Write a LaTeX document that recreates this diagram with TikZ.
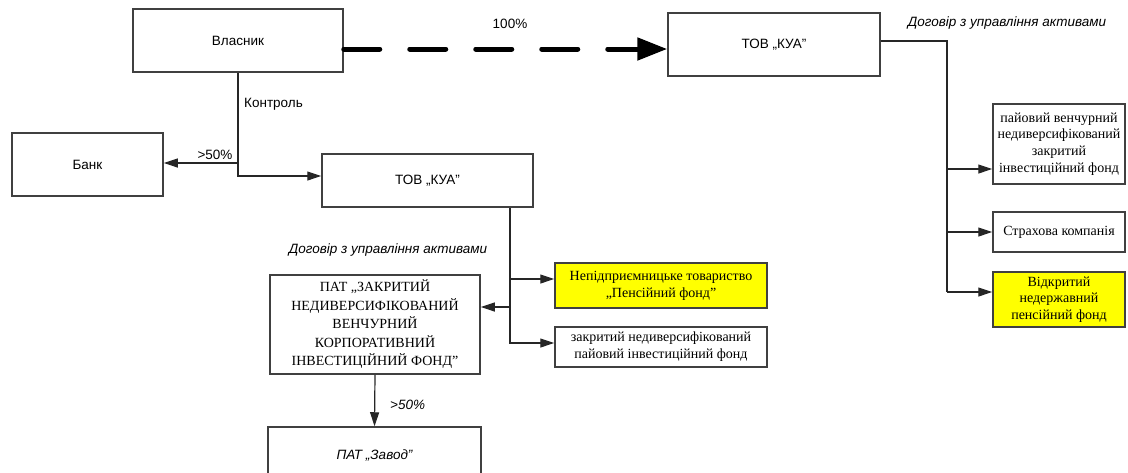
\documentclass[tikz,border=0pt]{standalone}
\usepackage{fontspec}
\setmainfont{Liberation Serif}
\setsansfont{Liberation Sans}
\usetikzlibrary{arrows.meta}
\definecolor{boxgray}{HTML}{404040}
\definecolor{ylw}{HTML}{FFFF00}
\tikzset{
  sbox/.style={draw=boxgray, line width=1.5pt, rectangle, inner sep=0pt, align=center,
    font=\sffamily\fontsize{13.5}{16}\selectfont},
  rbox/.style={draw=boxgray, line width=1.5pt, rectangle, inner sep=0pt, align=center,
    font=\rmfamily\fontsize{14}{16.8}\selectfont},
  ln/.style={draw=black!85, line width=1.2pt},
  arr/.style={ln, -{Triangle[length=14pt,width=9pt]}},
  dasharr/.style={draw=black, line width=5pt, line cap=round, dash pattern=on 36pt off 30pt,
    -{Triangle[length=30pt,width=22pt]}},
  lbl/.style={inner sep=0pt, font=\sffamily\fontsize{13.5}{16}\selectfont},
  ilbl/.style={inner sep=0pt, font=\sffamily\itshape\fontsize{13.5}{16}\selectfont},
}
\begin{document}
\begin{tikzpicture}[x=1pt,y=-1pt]
\useasboundingbox (0,0) rectangle (1128,472);
% nodes
\node[sbox, minimum width=210pt, minimum height=63pt] (vl) at (238,40.5) {Власник};
\node[sbox, minimum width=212pt, minimum height=63pt] (kua1) at (774,44.5) {ТОВ „КУА”};
\node[sbox, minimum width=151pt, minimum height=63pt] (bank) at (87.5,164.5) {Банк};
\node[sbox, minimum width=211pt, minimum height=53pt] (kua2) at (427.5,180.5) {ТОВ „КУА”};
\node[rbox, minimum width=132pt, minimum height=80pt] (pai) at (1059,144)
  {пайовий венчурний\\недиверсифікований\\закритий\\інвестиційний фонд};
\node[rbox, minimum width=132pt, minimum height=40pt] (strah) at (1059,232) {Страхова компанія};
\node[rbox, fill=ylw, minimum width=132pt, minimum height=55pt] (vidkr) at (1059,299.5)
  {Відкритий\\недержавний\\пенсійний фонд};
\node[rbox, fill=ylw, minimum width=212pt, minimum height=45pt] (nepid) at (661,285.5)
  {Непідприємницьке товариство\\„Пенсійний фонд”};
\node[rbox, minimum width=212pt, minimum height=40pt] (zakr) at (661,347)
  {закритий недиверсифікований\\пайовий інвестиційний фонд};
\node[rbox, minimum width=210pt, minimum height=99pt, font=\rmfamily\fontsize{14}{18.5}\selectfont] (pat) at (375,324.5)
  {ПАТ „ЗАКРИТИЙ\\НЕДИВЕРСИФІКОВАНИЙ\\ВЕНЧУРНИЙ\\КОРПОРАТИВНИЙ\\ІНВЕСТИЦІЙНИЙ ФОНД”};
\node[sbox, minimum width=213pt, minimum height=60pt, font=\sffamily\itshape\fontsize{13.5}{16}\selectfont] (zavod) at (374.5,457)
  {\raisebox{5pt}{ПАТ „Завод”}};
% labels
\node[lbl] (l100) at (510,24) {100\%};
\node[ilbl] (ldog1) at (1007,23) {Договір з управління активами};
\node[lbl, anchor=west] (lkon) at (244,104) {Контроль};
\node[lbl] (l50a) at (215,155) {>50\%};
\node[ilbl] (ldog2) at (388,250) {Договір з управління активами};
\node[ilbl, anchor=west] (l50b) at (390,405) {>50\%};
% coordinates
\coordinate (t1) at (947,41);
\coordinate (b1) at (947,292);
\coordinate (c1) at (238,176);
\coordinate (b2) at (510,343);
% connectors
\draw[dasharr] (vl.east |- 0,49) -- (kua1.west |- 0,49);
\draw[ln] (kua1.east |- t1) -- (t1) -- (b1);
\draw[arr] (t1 |- 0,169) -- (pai.west |- 0,169);
\draw[arr] (t1 |- strah.west) -- (strah.west);
\draw[arr] (b1) -- (vidkr.west |- b1);
\draw[arr] (vl.south) -- (c1) -- (kua2.west |- c1);
\draw[arr] (vl.south |- 0,163) -- (bank.east |- 0,163);
\draw[arr] (b2 |- kua2.south) -- (b2) -- (zakr.west |- b2);
\draw[arr] (b2 |- 0,279) -- (nepid.west |- 0,279);
\draw[arr] (b2 |- 0,307) -- (pat.east |- 0,307);
\draw[arr] (pat.south) -- (zavod.north);
\end{tikzpicture}
\end{document}
